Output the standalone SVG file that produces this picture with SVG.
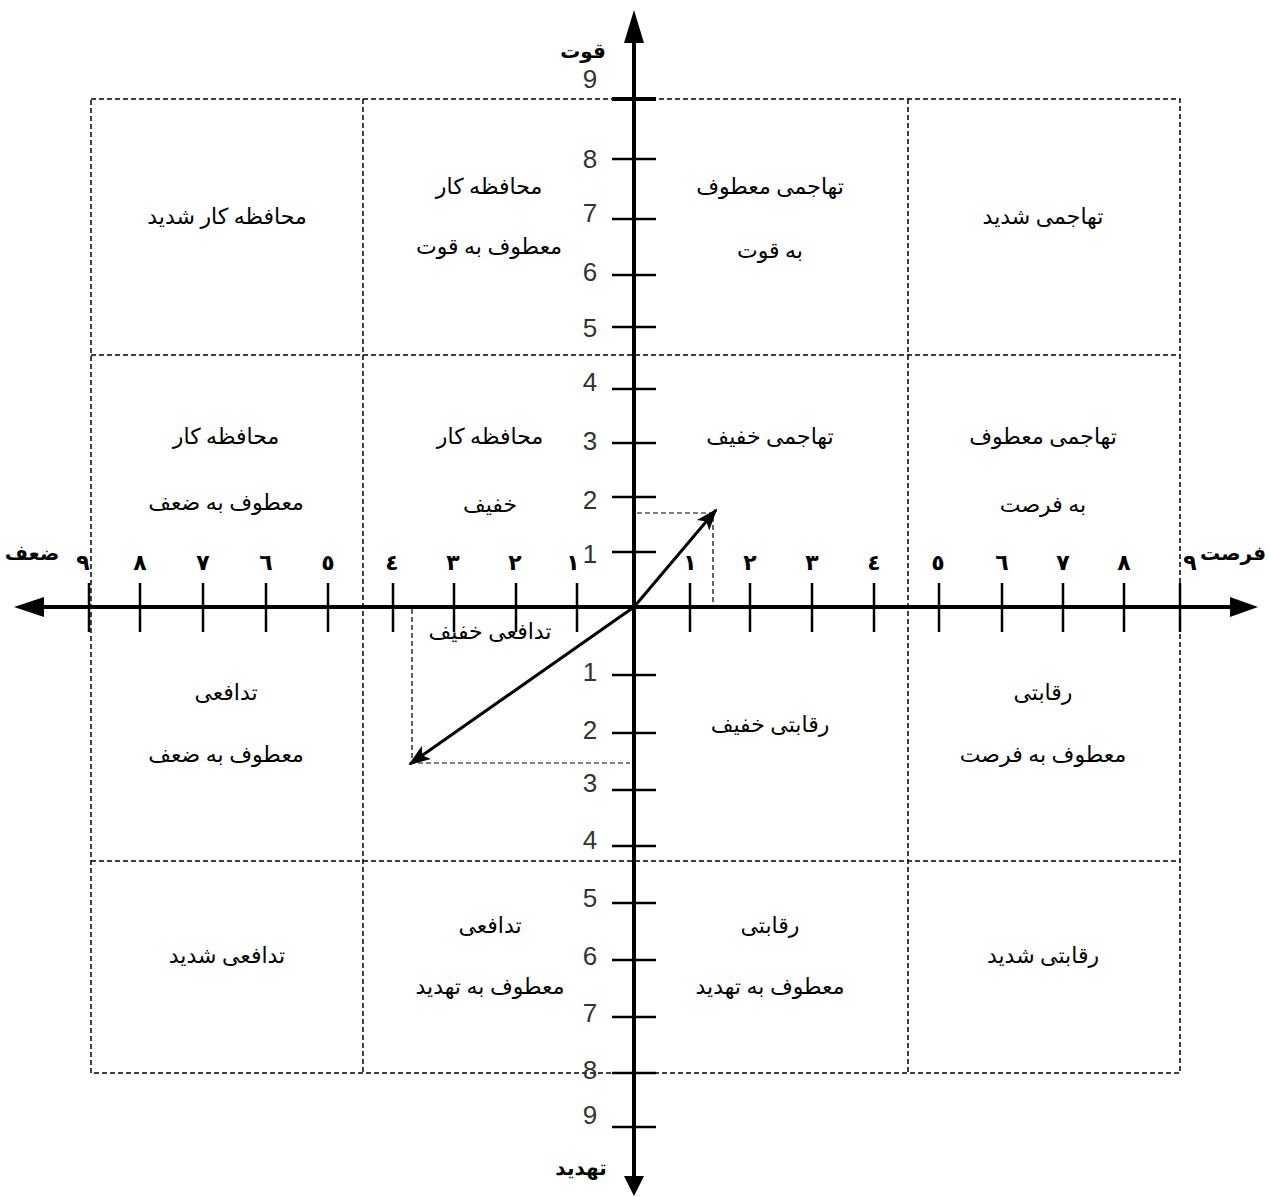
<svg xmlns="http://www.w3.org/2000/svg" width="1269" height="1197" viewBox="0 0 1269 1197">
<style>
.dash{stroke:#000;stroke-width:1.5;stroke-dasharray:5 3;fill:none}
.dash2{stroke:#000;stroke-width:1.2;stroke-dasharray:5 3;fill:none}
.axis{stroke:#000;stroke-width:4;fill:none}
.tick{stroke:#000;stroke-width:2.5;fill:none}
.cell{font-family:"Liberation Serif","DejaVu Serif","DejaVu Sans",serif;font-size:22px;fill:#000;text-anchor:middle}
.num{font-family:"Liberation Sans","DejaVu Sans",sans-serif;font-size:26px;fill:#333;text-anchor:middle}
.pd{font-family:"DejaVu Sans","Noto Sans",sans-serif;font-size:22px;font-weight:bold;fill:#000;text-anchor:middle}
.ax{font-family:"DejaVu Sans","Noto Sans",sans-serif;font-size:20px;font-weight:bold;fill:#000;text-anchor:middle}
</style>
<defs>
<marker id="vh" viewBox="0 0 22 16" refX="20" refY="8" markerWidth="22" markerHeight="16" orient="auto" markerUnits="userSpaceOnUse">
<path d="M0,0 L22,8 L0,16 L5,8 z" fill="#000"/>
</marker>
</defs>
<rect width="1269" height="1197" fill="#fff"/>
<g id="grid">
<rect class="dash" x="91" y="99" width="1089" height="974"/>
<line class="dash" x1="363" y1="99" x2="363" y2="1073"/>
<line class="dash" x1="908" y1="99" x2="908" y2="1073"/>
<line class="dash" x1="91" y1="355" x2="1180" y2="355"/>
<line class="dash" x1="91" y1="861" x2="1180" y2="861"/>
</g>
<g id="connectors">
<line class="axis" x1="44" y1="607" x2="1232" y2="607"/>
<polygon points="14,607 44,597 44,617" fill="#000"/>
<polygon points="1258,607 1230,597 1230,617" fill="#000"/>
<line class="axis" x1="634" y1="42" x2="634" y2="1178"/>
<polygon points="634,10 624,43 644,43" fill="#000"/>
<polygon points="634,1196 624,1176 644,1176" fill="#000"/>
<line class="axis" x1="612" y1="99" x2="656" y2="99"/>
<g class="tick">
<line x1="612" y1="159" x2="656" y2="159"/><line x1="612" y1="219" x2="656" y2="219"/>
<line x1="612" y1="275" x2="656" y2="275"/><line x1="612" y1="327" x2="656" y2="327"/>
<line x1="612" y1="389" x2="656" y2="389"/><line x1="612" y1="443" x2="656" y2="443"/>
<line x1="612" y1="497" x2="656" y2="497"/><line x1="612" y1="552" x2="656" y2="552"/>
<line x1="612" y1="675" x2="656" y2="675"/><line x1="612" y1="733" x2="656" y2="733"/>
<line x1="612" y1="790" x2="656" y2="790"/><line x1="612" y1="846" x2="656" y2="846"/>
<line x1="612" y1="903" x2="656" y2="903"/><line x1="612" y1="960" x2="656" y2="960"/>
<line x1="612" y1="1017" x2="656" y2="1017"/><line x1="612" y1="1073" x2="656" y2="1073"/>
<line x1="612" y1="1127" x2="656" y2="1127"/>
<line x1="89" y1="583" x2="89" y2="632"/><line x1="140" y1="583" x2="140" y2="632"/>
<line x1="203" y1="583" x2="203" y2="632"/><line x1="266" y1="583" x2="266" y2="632"/>
<line x1="328" y1="583" x2="328" y2="632"/><line x1="393" y1="583" x2="393" y2="632"/>
<line x1="454" y1="583" x2="454" y2="632"/><line x1="516" y1="583" x2="516" y2="632"/>
<line x1="577" y1="583" x2="577" y2="632"/>
<line x1="690" y1="583" x2="690" y2="632"/><line x1="750" y1="583" x2="750" y2="632"/>
<line x1="812" y1="583" x2="812" y2="632"/><line x1="874" y1="583" x2="874" y2="632"/>
<line x1="939" y1="583" x2="939" y2="632"/><line x1="1002" y1="583" x2="1002" y2="632"/>
<line x1="1063" y1="583" x2="1063" y2="632"/><line x1="1124" y1="583" x2="1124" y2="632"/>
<line x1="1180" y1="583" x2="1180" y2="632"/>
</g>
<polyline class="dash2" points="637,513 713,513 713,605"/>
<polyline class="dash2" points="412,609 412,763 630,763"/>
<line x1="634" y1="607" x2="716" y2="510" stroke="#000" stroke-width="3" marker-end="url(#vh)"/>
<line x1="634" y1="607" x2="410" y2="764" stroke="#000" stroke-width="3" marker-end="url(#vh)"/>
</g>
<g id="axis-labels">
<text class="ax" x="583" y="58">قوت</text>
<text class="ax" x="581" y="1175">تهدید</text>
<text class="ax" x="32" y="560">ضعف</text>
<text class="ax" x="1233" y="560">فرصت</text>
</g>
<g id="y-numbers">
<text class="num" x="590" y="88">9</text>
<text class="num" x="590" y="168">8</text>
<text class="num" x="590" y="222">7</text>
<text class="num" x="590" y="281">6</text>
<text class="num" x="590" y="337">5</text>
<text class="num" x="590" y="391">4</text>
<text class="num" x="590" y="450">3</text>
<text class="num" x="590" y="509">2</text>
<text class="num" x="590" y="563">1</text>
<text class="num" x="590" y="681">1</text>
<text class="num" x="590" y="739">2</text>
<text class="num" x="590" y="792">3</text>
<text class="num" x="590" y="849">4</text>
<text class="num" x="590" y="907">5</text>
<text class="num" x="590" y="965">6</text>
<text class="num" x="590" y="1022">7</text>
<text class="num" x="590" y="1079">8</text>
<text class="num" x="590" y="1124">9</text>
</g>
<g id="x-numbers">
<text class="pd" x="83" y="570">٩</text>
<text class="pd" x="140" y="570">٨</text>
<text class="pd" x="203" y="570">٧</text>
<text class="pd" x="266" y="570">٦</text>
<text class="pd" x="328" y="570">٥</text>
<text class="pd" x="392" y="570">٤</text>
<text class="pd" x="453" y="570">٣</text>
<text class="pd" x="515" y="570">٢</text>
<text class="pd" x="573" y="570">١</text>
<text class="pd" x="690" y="570">١</text>
<text class="pd" x="750" y="570">٢</text>
<text class="pd" x="812" y="570">٣</text>
<text class="pd" x="874" y="570">٤</text>
<text class="pd" x="938" y="570">٥</text>
<text class="pd" x="1002" y="570">٦</text>
<text class="pd" x="1063" y="570">٧</text>
<text class="pd" x="1124" y="570">٨</text>
<text class="pd" x="1190" y="570">٩</text>
</g>
<g id="cells">
<g id="c11"><text class="cell" x="227" y="224">محافظه کار شدید</text></g>
<g id="c12"><text class="cell" x="489" y="194">محافظه کار</text><text class="cell" x="489" y="254">معطوف به قوت</text></g>
<g id="c13"><text class="cell" x="770" y="194">تهاجمی معطوف</text><text class="cell" x="770" y="258">به قوت</text></g>
<g id="c14"><text class="cell" x="1043" y="224">تهاجمی شدید</text></g>
<g id="c21"><text class="cell" x="226" y="444">محافظه کار</text><text class="cell" x="226" y="510">معطوف به ضعف</text></g>
<g id="c22"><text class="cell" x="490" y="444">محافظه کار</text><text class="cell" x="490" y="512">خفیف</text></g>
<g id="c23"><text class="cell" x="770" y="444">تهاجمی خفیف</text></g>
<g id="c24"><text class="cell" x="1043" y="444">تهاجمی معطوف</text><text class="cell" x="1043" y="512">به فرصت</text></g>
<g id="c31"><text class="cell" x="226" y="700">تدافعی</text><text class="cell" x="226" y="762">معطوف به ضعف</text></g>
<g id="c32"><text class="cell" x="490" y="639">تدافعی خفیف</text></g>
<g id="c33"><text class="cell" x="770" y="732">رقابتی خفیف</text></g>
<g id="c34"><text class="cell" x="1043" y="700">رقابتی</text><text class="cell" x="1043" y="762">معطوف به فرصت</text></g>
<g id="c41"><text class="cell" x="227" y="963">تدافعی شدید</text></g>
<g id="c42"><text class="cell" x="490" y="933">تدافعی</text><text class="cell" x="490" y="994">معطوف به تهدید</text></g>
<g id="c43"><text class="cell" x="770" y="933">رقابتی</text><text class="cell" x="770" y="994">معطوف به تهدید</text></g>
<g id="c44"><text class="cell" x="1043" y="963">رقابتی شدید</text></g>
</g>
</svg>
